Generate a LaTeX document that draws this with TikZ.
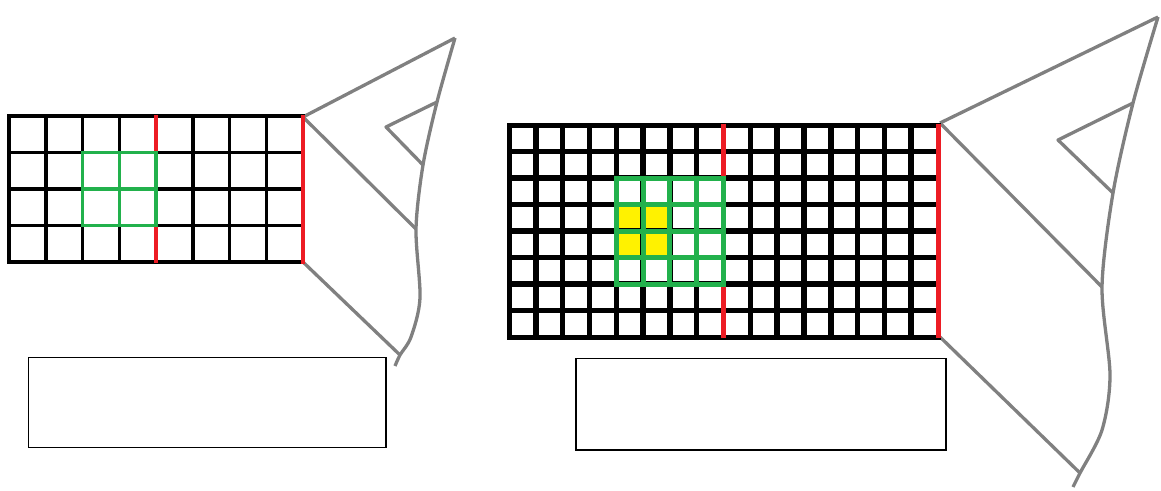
\documentclass[tikz,border=0pt]{standalone}
\usepackage{tikz}
\usetikzlibrary{calc}
\definecolor{gridred}{HTML}{ED1C24}
\definecolor{gridgreen}{HTML}{22B14C}
\definecolor{cellyellow}{HTML}{FFF200}
\definecolor{treegray}{HTML}{808080}

\begin{document}
\begin{tikzpicture}[x=1pt, y=-1pt,
  treeline/.style={treegray, line width=3.3pt, line join=round},
  emptybox/.style={black, line width=1.6pt}]
  \useasboundingbox (0,0) rectangle (1161,490);

  % Tree on the left grid
  \coordinate (lTop) at (303,117);
  \coordinate (lBot) at (303,262);
  \coordinate (lTip) at (455,38);
  \coordinate (lA) at (437,102);
  \coordinate (lB) at (386,127);
  \coordinate (lC) at (423,165);
  \coordinate (lD) at (416,229);
  \coordinate (lE) at (400,355);
  \draw[treeline] plot[smooth, tension=0.5] coordinates {(lTip) (lA) (lC) (lD) (420,298) (411,337) (lE) (395,366)};
  \draw[treeline] (lTop) -- (lTip);
  \draw[treeline] (lTop) -- (lD);
  \draw[treeline] (lA) -- (lB) -- (lC);
  \draw[treeline] (lBot) -- (lE);

  % Left grid 8x4
  \begin{scope}[xshift=9pt, yshift=-116pt, x=36.75pt, y=-36.5pt]
    \foreach \i in {1,...,7} \draw[line width=3.5pt] (\i,0) -- (\i,4);
    \foreach \j in {1,...,3} \draw[line width=3.5pt] (0,\j) -- (8,\j);
    \draw[line width=3.5pt] (0,0) rectangle (8,4);
    \draw[gridred, line width=3.5pt] (4,-0.03) -- (4,4.03);
    \draw[gridred, line width=3.5pt] (8,-0.03) -- (8,4.05);
    % green window
    \foreach \i in {2,3,4} \draw[gridgreen, line width=3.5pt] (\i,1) -- (\i,3);
    \foreach \j in {1,2,3} \draw[gridgreen, line width=3.5pt] (2,\j) -- (4,\j);
    \draw[gridgreen, line width=3.5pt] (2,1) rectangle (4,3);
  \end{scope}

  \draw[emptybox] (28.3,357.3) rectangle (385.7,447.3);

  % Tree on the right grid
  \coordinate (rTop) at (940,123);
  \coordinate (rBot) at (940,337);
  \coordinate (rTip) at (1158,17);
  \coordinate (rA) at (1133,103);
  \coordinate (rB) at (1058,140);
  \coordinate (rC) at (1113,193);
  \coordinate (rD) at (1102,287);
  \coordinate (rE) at (1080,473);
  \draw[treeline] plot[smooth, tension=0.5] coordinates {(rTip) (rA) (rC) (rD) (1110,375) (1102,430) (rE) (1073,487)};
  \draw[treeline] (rTop) -- (rTip);
  \draw[treeline] (rTop) -- (rD);
  \draw[treeline] (rA) -- (rB) -- (rC);
  \draw[treeline] (rBot) -- (rE);

  % Right grid 16x8
  \begin{scope}[xshift=509pt, yshift=-125pt, x=26.8125pt, y=-26.5pt]
    \fill[cellyellow] (4,3) rectangle (6,5);
    \foreach \i in {1,...,15} \draw[line width=5.5pt] (\i,0) -- (\i,8);
    \foreach \j in {1,...,7} \draw[line width=5.5pt] (0,\j) -- (16,\j);
    \draw[line width=5pt] (0,0) rectangle (16,8);
    \draw[gridred, line width=5pt] (8,-0.05) -- (8,8.05);
    \draw[gridred, line width=5pt] (16,-0.05) -- (16,8.05);
    % green window
    \foreach \i in {4,...,8} \draw[gridgreen, line width=5pt] (\i,2) -- (\i,6);
    \foreach \j in {2,...,6} \draw[gridgreen, line width=5pt] (4,\j) -- (8,\j);
    \draw[gridgreen, line width=5pt] (4,2) rectangle (8,6);
  \end{scope}

  \draw[emptybox] (575.7,358.3) rectangle (945.7,450);
\end{tikzpicture}
\end{document}
